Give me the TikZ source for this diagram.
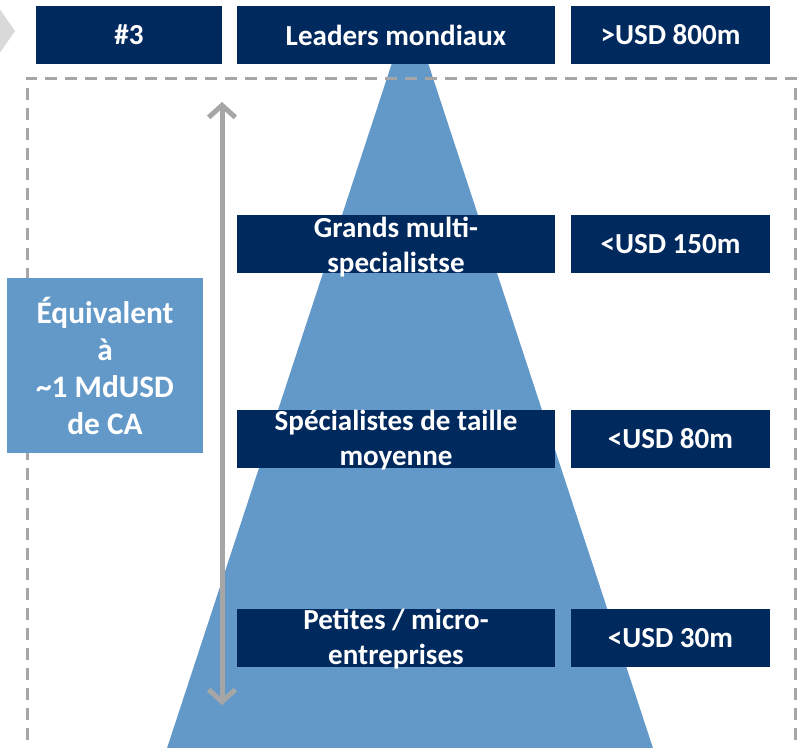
\documentclass[tikz,border=0pt]{standalone}
\usepackage{fontspec}
\setmainfont{Carlito}
\usetikzlibrary{arrows.meta}
\definecolor{navy}{RGB}{0,41,94}
\definecolor{pyramid}{RGB}{99,153,201}
\definecolor{guide}{RGB}{166,166,166}
\definecolor{chevron}{RGB}{217,217,217}

\begin{document}
\begin{tikzpicture}[
    x=0.75pt, y=-0.75pt,
    tier/.style={rectangle, fill=navy, inner sep=0pt, minimum height=43.5pt},
    rank/.style={tier, minimum width=139.5pt},
    segment/.style={tier, minimum width=238.5pt},
    revenue/.style={tier, minimum width=149.25pt},
    tiertext/.style={text=white, font=\bfseries\fontsize{21.8}{26.25}\selectfont, align=center, inner sep=0pt},
    scalebox/.style={rectangle, fill=pyramid, inner sep=0pt, minimum width=147pt, minimum height=131.25pt,
        text=white, font=\bfseries\fontsize{23.5}{27.75}\selectfont, align=center},
    frame/.style={draw=guide, line width=2.25pt, dash pattern=on 9pt off 6pt},
    scalearrow/.style={draw=guide, line width=3.75pt, {Straight Barb[length=9pt,width=20pt]}-{Straight Barb[length=9pt,width=20pt]}}
]
    \clip (0,0) rectangle (802,747);
    \useasboundingbox (0,0) rectangle (802,747);

    % background shapes
    \fill[chevron] (-40,8) -- (-1,8) -- (15,31) -- (-1,54) -- (-40,54) -- cycle;
    \fill[pyramid] (410,8) -- (670,800) -- (150,800) -- cycle;
    \draw[frame] (27,760) -- (27,78) -- (795,78) -- (795,760);

    % scale arrow
    \coordinate (scaletop) at (222,102);
    \coordinate (scalebottom) at (222,705);
    \draw[scalearrow] (scaletop) -- (scalebottom);

    % top row
    \node[rank] (rank) at (129,35) {};
    \node[tiertext] at (rank) {\#3};
    \node[segment] (leaders) at (396,35) {};
    \node[tiertext] at (leaders) {Leaders mondiaux};
    \node[revenue] (rev800) at (670.5,35) {};
    \node[tiertext] at (rev800) {>USD 800m};

    % tiers
    \node[segment] (grands) at (396,244) {};
    \node[tiertext] at ([yshift=-2.5pt]grands.center) {Grands multi-\\specialistse};
    \node[revenue] (rev150) at (670.5,244) {};
    \node[tiertext] at (rev150) {<USD 150m};

    \node[segment] (moyens) at (396,438.5) {};
    \node[tiertext] at ([yshift=-1pt]moyens.center) {Spécialistes de taille\\moyenne};
    \node[revenue] (rev80) at (670.5,438.5) {};
    \node[tiertext] at (rev80) {<USD 80m};

    \node[segment] (petites) at (396,638) {};
    \node[tiertext] at ([yshift=-1pt]petites.center) {Petites / micro-\\entreprises};
    \node[revenue] (rev30) at (670.5,638) {};
    \node[tiertext] at (rev30) {<USD 30m};

    % side note
    \node[scalebox] (equiv) at (105,365.5) {Équivalent\\à\\\textasciitilde1 MdUSD\\de CA};
\end{tikzpicture}
\end{document}
